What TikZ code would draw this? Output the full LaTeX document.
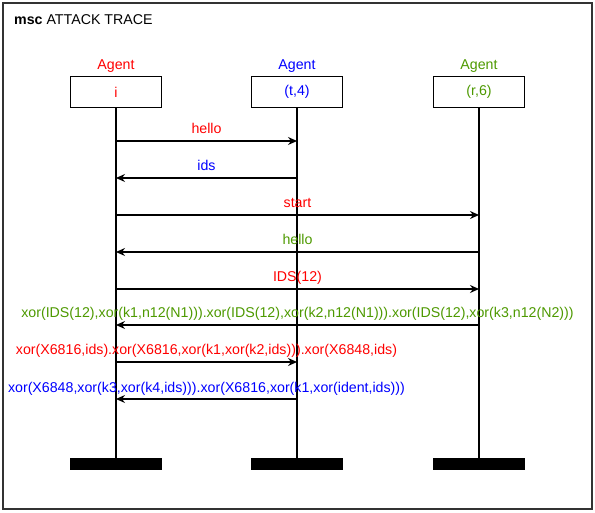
\documentclass[tikz,border=0pt]{standalone}
\usepackage{fontspec}
\setmainfont{Liberation Sans}
\usetikzlibrary{arrows.meta,calc}
\definecolor{agred}{RGB}{255,0,0}
\definecolor{agblue}{RGB}{0,0,255}
\definecolor{aggreen}{RGB}{77,153,0}
\begin{document}
\begin{tikzpicture}[x=1pt,y=-1pt,
  every node/.style={font=\fontsize{14.2}{16}\selectfont, inner sep=0pt},
  agbox/.style={draw=black, line width=1.7pt, minimum width=91pt, minimum height=31pt, fill=white},
  life/.style={line width=1.4pt},
  bar/.style={fill=black, minimum width=92pt, minimum height=12pt},
  msg/.style={line width=1.4pt, -{Stealth[length=9pt,width=8pt,inset=3pt]}},
  lbl/.style={anchor=base}]
\useasboundingbox (0,0) rectangle (595,513);
\draw[line width=1.6pt, draw=black!80] (3,3) rectangle (592,509);
\node[anchor=base west] (title) at (14,25) {\textbf{msc} ATTACK TRACE};
% agents
\node[text=agred,anchor=base] (ha) at (116,70) {Agent};
\node[text=agblue,anchor=base] (hb) at (297,70) {Agent};
\node[text=aggreen,anchor=base] (hc) at (479,70) {Agent};
\node[agbox, text=agred] (a) at (116,92) {i};
\node[agbox, text=agblue] (b) at (297,92) {(t,4)};
\node[agbox, text=aggreen] (c) at (479,92) {(r,6)};
\node[bar] (ea) at (116,464) {};
\node[bar] (eb) at (297,464) {};
\node[bar] (ec) at (479,464) {};
\draw[life] (a.south) -- (ea.north);
\draw[life] (b.south) -- (eb.north);
\draw[life] (c.south) -- (ec.north);
% messages
\foreach \y/\f/\t/\col/\txt in {
  141/a/b/agred/hello,
  178/b/a/agblue/ids,
  215/a/c/agred/start,
  252/c/a/aggreen/hello,
  289/a/c/agred/IDS(12),
  325/c/a/aggreen/{xor(IDS(12),xor(k1,n12(N1))).xor(IDS(12),xor(k2,n12(N1))).xor(IDS(12),xor(k3,n12(N2)))},
  362/a/b/agred/{xor(X6816,ids).xor(X6816,xor(k1,xor(k2,ids))).xor(X6848,ids)},
  399/b/a/agblue/{xor(X6848,xor(k3,xor(k4,ids))).xor(X6816,xor(k1,xor(ident,ids)))}}
{
  \coordinate (s\y) at (\f |- 0,\y);
  \coordinate (t\y) at (\t |- 0,\y);
  \draw[msg] (s\y) -- (t\y);
  \node[lbl, text=\col] (l\y) at ($(s\y)!0.5!(t\y)+(0,-7)$) {\txt};
}
\end{tikzpicture}
\end{document}
